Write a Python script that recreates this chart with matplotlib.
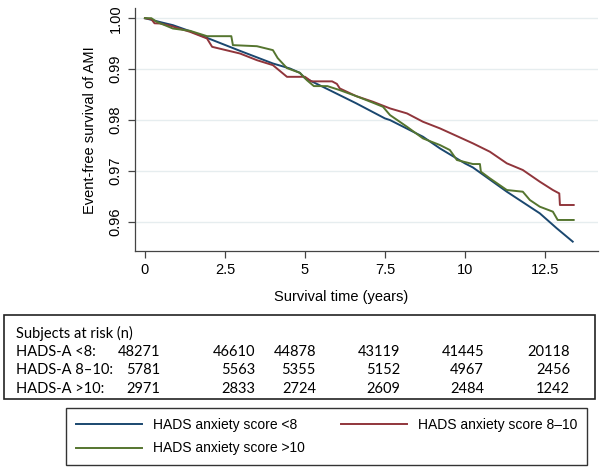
import numpy as np
import matplotlib.pyplot as plt
from matplotlib.patches import Rectangle

# ------------------------------------------
# Datos (Kaplan-Meier)
# ------------------------------------------
t_low = [0, 0.5, 0.875, 1.41, 1.94, 2.97, 4.0, 4.53, 4.84, 5.0, 5.57, 6.6,
         7.5, 7.66, 8.69, 9.22, 10.0, 10.25, 11.31, 12.34, 12.87, 13.37]
s_low = [1.0, 0.9992, 0.99863, 0.99745, 0.99614, 0.99359, 0.99111, 0.99013,
         0.98928, 0.98824, 0.9865, 0.9833, 0.98033, 0.9800, 0.97673, 0.97444,
         0.9715, 0.9707, 0.96594, 0.9617, 0.95876, 0.95614]

t_mid = [0, 0.2, 0.3, 0.47, 0.8, 1.41, 1.94, 2.1, 2.97, 3.5, 4.0, 4.44, 4.84,
         5.0, 5.2, 5.85, 6.0, 6.09, 6.6, 7.13, 7.66, 8.19, 8.69, 9.22, 9.75,
         10.25, 10.78, 11.31, 11.81, 12.34, 12.75, 12.95, 12.97, 13.4]
s_mid = [1.0, 0.9998, 0.9990, 0.99896, 0.9985, 0.99732, 0.99602, 0.99438,
         0.99307, 0.99176, 0.99078, 0.98849, 0.98849, 0.9885, 0.9876, 0.9876,
         0.9871, 0.98621, 0.98471, 0.98359, 0.98229, 0.98131, 0.97967, 0.97837,
         0.97686, 0.97543, 0.97379, 0.97151, 0.9702, 0.96791, 0.96627, 0.9656,
         0.96333, 0.96333]

t_high = [0, 0.2, 0.37, 0.875, 1.41, 1.94, 2.7, 2.75, 3.5, 4.0, 4.15, 4.44,
          4.84, 5.06, 5.28, 5.7, 6.09, 6.6, 7.13, 7.44, 7.66, 8.19, 8.69, 9.22,
          9.53, 9.75, 10.25, 10.47, 10.5, 10.78, 11.31, 11.81, 12.03, 12.34,
          12.75, 12.9, 13.4]
s_high = [1.0, 1.0, 0.99928, 0.99797, 0.99752, 0.99647, 0.99647, 0.99471,
          0.9945, 0.99373, 0.99216, 0.9902, 0.98928, 0.98784, 0.98667, 0.98667,
          0.98588, 0.98471, 0.9834, 0.98261, 0.98098, 0.97869, 0.9764, 0.9751,
          0.97412, 0.97216, 0.97137, 0.97137, 0.96987, 0.96857, 0.96627,
          0.96594, 0.96431, 0.963, 0.96202, 0.96039, 0.96039]

etiquetas = ['HADS anxiety score <8', 'HADS anxiety score 8\u201310',
             'HADS anxiety score >10']
colores = ['#1a476f', '#90353b', '#55752f']

x_ticks = [0, 2.5, 5, 7.5, 10, 12.5]
x_labels = ['0', '2.5', '5', '7.5', '10', '12.5']
y_ticks = [0.96, 0.97, 0.98, 0.99, 1.00]

# Tabla de sujetos en riesgo
filas_riesgo = ['HADS-A <8:', 'HADS-A 8\u201310:', 'HADS-A >10:']
riesgo = [[48271, 46610, 44878, 43119, 41445, 20118],
          [5781, 5563, 5355, 5152, 4967, 2456],
          [2971, 2833, 2724, 2609, 2484, 1242]]
col_x = [160, 255, 316, 400, 484, 570]  # borde derecho de cada columna (px)

# ------------------------------------------
# Figura
# ------------------------------------------
W, H = 603, 470
plt.rcParams['font.family'] = ['Liberation Sans', 'DejaVu Sans']
fig = plt.figure(figsize=(W / 100, H / 100), dpi=100)


def fx(x):
    return x / W


def fy(y):
    return 1 - y / H


ax = fig.add_axes([fx(135), fy(251), (598 - 135) / W, (251 - 8) / H])
for t, s, c in zip([t_low, t_mid, t_high], [s_low, s_mid, s_high], colores):
    ax.plot(t, s, color=c, linewidth=1.4)

ax.set_xlim(-0.31, 14.16)
ax.set_ylim(0.9543, 1.002)
ax.set_xticks(x_ticks)
ax.set_xticklabels(x_labels)
ax.set_yticks(y_ticks)
ax.set_yticklabels(['%.2f' % v for v in y_ticks], rotation=90, va='center')
ax.tick_params(direction='out', length=5, width=0.9, colors='#444',
               labelcolor='black', labelsize=10.5, pad=4)
ax.grid(True, axis='y', color='#e6edef', linewidth=1.0)
ax.set_axisbelow(True)
for lado in ['top', 'right']:
    ax.spines[lado].set_visible(False)
for lado in ['left', 'bottom']:
    ax.spines[lado].set_color('#444')
    ax.spines[lado].set_linewidth(0.9)

fig.text(fx(90), fy(130), 'Event-free survival of AMI', rotation=90,
         ha='center', va='center', fontsize=10.5)
fig.text(fx(341), fy(297), 'Survival time (years)', ha='center',
         va='center', fontsize=10.5)

# Tabla "Subjects at risk"
fig.patches.append(Rectangle((fx(4), fy(399)), (595 - 4) / W, (399 - 315) / H,
                             transform=fig.transFigure, fill=False,
                             edgecolor='#222', linewidth=1.2))
fuente_tabla = dict(family=['Lato', 'DejaVu Sans'], fontsize=10.5)
fig.text(fx(16), fy(333), 'Subjects at risk (n)', va='center', **fuente_tabla)
for i, nombre in enumerate(filas_riesgo):
    yy = fy(352 + i * 18.5)
    fig.text(fx(16), yy, nombre, va='center', **fuente_tabla)
    for xc, n in zip(col_x, riesgo[i]):
        fig.text(fx(xc), yy, str(n), va='center', ha='right', **fuente_tabla)

# Leyenda
lineas = ax.get_lines()
leg = fig.legend([lineas[0], lineas[2], lineas[1]],
                 [etiquetas[0], etiquetas[2], etiquetas[1]],
                 ncol=2, loc='center', mode='expand',
                 bbox_to_anchor=(fx(66), fy(466), 521 / W, 59 / H),
                 fontsize=10, handlelength=4.75, handletextpad=0.8,
                 labelspacing=0.7, borderpad=0.7, borderaxespad=0,
                 fancybox=False, framealpha=1, edgecolor='#333')
leg.get_frame().set_linewidth(1.0)

plt.savefig('out.png', dpi=100)
